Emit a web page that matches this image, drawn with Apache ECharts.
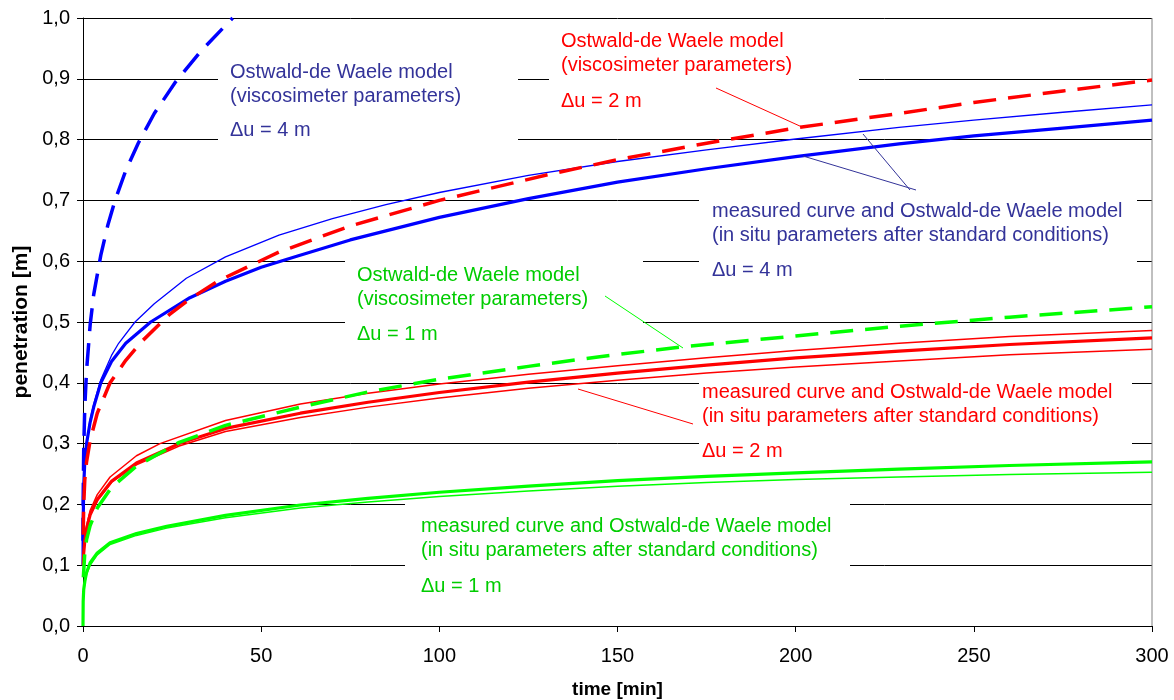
<!DOCTYPE html>
<html>
<head>
<meta charset="utf-8">
<script src="https://cdn.jsdelivr.net/npm/echarts@6/dist/echarts.min.js"></script>
<style>
  html, body { margin: 0; padding: 0; background: #fff; }
  #chart { width: 1174px; height: 700px; }
</style>
</head>
<body>
<div id="chart"></div>
<script>
// Penetration [m] over time [min] for three settlement steps (Δu = 1, 2, 4 m)
const yTicks = [0, 0.1, 0.2, 0.3, 0.4, 0.5, 0.6, 0.7, 0.8, 0.9, 1.0];
const xTicks = [0, 50, 100, 150, 200, 250, 300];

// Δu = 4 m
const blueViscosimeter = [[0.01,0.14],[0.05,0.21],[0.2,0.29],[0.5,0.36],[1,0.42],[2,0.495],[3,0.545],[5,0.61],[7,0.66],[9,0.7],[12,0.749],[15.5,0.794],[20,0.843],[26,0.895],[33,0.945],[42,1.0]];
const blueMeasured = [[0.01,0.1],[0.05,0.17],[0.2,0.23],[0.5,0.27],[1,0.3],[2,0.335],[3,0.36],[5,0.4],[8,0.435],[12,0.465],[19,0.5],[30,0.54],[40,0.567],[50,0.59],[60,0.608],[75,0.635],[100,0.672],[125,0.703],[150,0.73],[175,0.752],[200,0.772],[229,0.793],[250,0.806],[275,0.819],[300,0.832]];
const blueInSitu = [[0.01,0.1],[0.05,0.17],[0.2,0.23],[0.5,0.27],[1,0.3],[2,0.34],[3,0.365],[5,0.405],[8,0.445],[10,0.465],[14.6,0.5],[20,0.53],[29,0.572],[40,0.607],[55,0.643],[70,0.67],[85,0.693],[100,0.713],[125,0.741],[150,0.764],[175,0.783],[200,0.801],[229,0.82],[250,0.832],[275,0.845],[300,0.857]];

// Δu = 2 m
const redViscosimeter = [[0.05,0.15],[0.2,0.2],[0.5,0.24],[1,0.27],[2,0.305],[4,0.35],[7.6,0.4],[12,0.437],[16.5,0.468],[24.4,0.513],[30,0.538],[38.4,0.569],[55,0.615],[75,0.658],[100,0.7],[131,0.743],[150,0.767],[175,0.794],[201,0.82],[229,0.843],[250,0.861],[275,0.88],[300,0.898]];
const redMeasured = [[0.05,0.1],[0.2,0.12],[0.5,0.14],[1,0.16],[2,0.183],[4,0.208],[8,0.238],[15,0.268],[27,0.3],[40,0.325],[61,0.35],[80,0.368],[100,0.384],[125,0.401],[150,0.416],[175,0.429],[200,0.441],[229,0.452],[260,0.463],[300,0.474]];
const redInSituUpper = [[0.05,0.1],[0.2,0.125],[0.5,0.145],[1,0.165],[2,0.19],[4,0.216],[7.6,0.245],[15,0.28],[21.6,0.3],[40,0.338],[61,0.365],[80,0.383],[100,0.398],[125,0.414],[150,0.428],[175,0.441],[200,0.453],[229,0.465],[260,0.476],[300,0.486]];
const redInSituLower = [[0.05,0.1],[0.5,0.14],[1,0.16],[2,0.182],[4,0.206],[8,0.236],[15,0.265],[27,0.296],[40,0.32],[61,0.343],[80,0.36],[100,0.375],[125,0.391],[150,0.404],[175,0.416],[200,0.426],[229,0.436],[260,0.446],[300,0.455]];

// Δu = 1 m
const greenViscosimeter = [[0.1,0.08],[0.5,0.12],[1,0.142],[2,0.165],[4,0.194],[8,0.228],[15,0.263],[27,0.302],[40,0.33],[61,0.36],[80,0.385],[100,0.406],[125,0.427],[145,0.443],[168,0.459],[200,0.477],[229,0.493],[260,0.508],[300,0.525]];
const greenMeasured = [[0,0],[0.05,0.04],[0.2,0.06],[0.56,0.075],[1,0.088],[2,0.104],[4,0.12],[7.6,0.137],[15,0.152],[23.5,0.164],[40,0.182],[61,0.199],[80,0.21],[100,0.22],[125,0.23],[150,0.239],[175,0.246],[200,0.252],[229,0.258],[260,0.264],[300,0.27]];
const greenInSitu = [[0,0],[0.05,0.04],[0.2,0.058],[0.56,0.072],[1,0.085],[2,0.1],[4,0.117],[7.6,0.134],[15,0.149],[23.5,0.161],[40,0.178],[61,0.194],[80,0.204],[100,0.213],[125,0.222],[150,0.23],[175,0.236],[200,0.241],[229,0.245],[260,0.249],[300,0.253]];

const BLUE = '#0000ff', RED = '#ff0000', GREEN = '#00ff00';
const BLUE_TXT = '#333399', RED_TXT = '#ff0000', GREEN_TXT = '#00cc00';
const FONT = '20px "Liberation Sans", Arial, sans-serif';

function curve(name, data, color, width, dashed) {
  return {
    name, type: 'line', data, showSymbol: false, smooth: false,
    lineStyle: { color, width, type: dashed ? [23, 12] : 'solid', cap: 'butt', join: 'round' },
    emphasis: { disabled: true }, z: 2
  };
}

// white label panels that interrupt the grid lines
function panel(x, y, w, h) {
  return { type: 'rect', shape: { x, y, width: w, height: h }, style: { fill: '#fff' }, z: 1, silent: true };
}
function label(x, y, lines, color) {
  return lines.map(([txt, dy]) => ({
    type: 'text', x, y: y + dy, z: 3, silent: true,
    style: { text: txt, fill: color, font: FONT, textVerticalAlign: 'middle' }
  }));
}
function leader(x1, y1, x2, y2, color) {
  return { type: 'line', shape: { x1, y1, x2, y2 }, style: { stroke: color, lineWidth: 1 }, z: 4, silent: true };
}

const model = 'Ostwald-de Waele model';
const visc = '(viscosimeter parameters)';
const meas = 'measured curve and Ostwald-de Waele model';
const insitu = '(in situ parameters after standard conditions)';

const chart = echarts.init(document.getElementById('chart'), null, { renderer: 'canvas' });
chart.setOption({
  animation: false,
  backgroundColor: '#fff',
  grid: { left: 83, right: 22, top: 18, bottom: 74, show: false, containLabel: false, outerBoundsMode: 'none' },
  xAxis: {
    type: 'value', min: 0, max: 300, interval: 50,
    name: 'time [min]', nameLocation: 'middle', nameGap: 54,
    nameTextStyle: { fontFamily: 'Liberation Sans', fontSize: 19, fontWeight: 'bold', color: '#000' },
    axisLine: { lineStyle: { color: '#000', width: 1 } },
    axisTick: { show: true, length: 6, lineStyle: { color: '#000' } },
    axisLabel: { fontFamily: 'Liberation Sans', fontSize: 20, color: '#000', margin: 20,
      formatter: v => xTicks.includes(v) ? String(v) : '' },
    splitLine: { show: false }
  },
  yAxis: {
    type: 'value', min: 0, max: 1, interval: 0.1,
    name: 'penetration [m]', nameLocation: 'middle', nameGap: 50, nameRotate: 90,
    nameTextStyle: { fontFamily: 'Liberation Sans', fontSize: 21, fontWeight: 'bold', color: '#000' },
    axisLine: { show: true, lineStyle: { color: '#000', width: 1 } },
    axisTick: { show: true, length: 6, lineStyle: { color: '#000' } },
    axisLabel: { fontFamily: 'Liberation Sans', fontSize: 20, color: '#000', margin: 13,
      formatter: v => yTicks.some(t => Math.abs(t - v) < 1e-9) ? v.toFixed(1).replace('.', ',') : '' },
    splitLine: { show: true, lineStyle: { color: '#000', width: 1 } }
  },
  series: [
    curve('blueViscosimeter', blueViscosimeter, BLUE, 3.5, true),
    curve('blueInSitu', blueInSitu, BLUE, 1.3, false),
    curve('blueMeasured', blueMeasured, BLUE, 3.2, false),
    curve('redViscosimeter', redViscosimeter, RED, 3.5, true),
    curve('redInSituUpper', redInSituUpper, RED, 1.5, false),
    curve('redInSituLower', redInSituLower, RED, 1.5, false),
    curve('redMeasured', redMeasured, RED, 3.2, false),
    curve('greenViscosimeter', greenViscosimeter, GREEN, 3.5, true),
    curve('greenInSitu', greenInSitu, GREEN, 1.5, false),
    curve('greenMeasured', greenMeasured, GREEN, 3.2, false)
  ],
  graphic: [
    // right frame edge
    { type: 'line', shape: { x1: 1152, y1: 18, x2: 1152, y2: 626 }, style: { stroke: '#808080', lineWidth: 1 }, z: 1 },
    panel(218, 48, 300, 100),
    panel(549, 22, 310, 92),
    panel(699, 186, 438, 100),
    panel(345, 252, 298, 98),
    panel(699, 370, 433, 98),
    panel(405, 490, 445, 112),
    ...label(230, 72, [[model, 0], [visc, 24], ['Δu = 4 m', 58]], BLUE_TXT),
    ...label(561, 41, [[model, 0], [visc, 24], ['Δu = 2 m', 60]], RED_TXT),
    ...label(712, 211, [[meas, 0], [insitu, 24], ['Δu = 4 m', 59]], BLUE_TXT),
    ...label(357, 275, [[model, 0], [visc, 24], ['Δu = 1 m', 59]], GREEN_TXT),
    ...label(702, 392, [[meas, 0], [insitu, 24], ['Δu = 2 m', 59]], RED_TXT),
    ...label(421, 526, [[meas, 0], [insitu, 24], ['Δu = 1 m', 60]], GREEN_TXT),
    leader(716, 88, 802, 127, RED),
    leader(863, 134, 910, 190, BLUE_TXT),
    leader(803, 156, 916, 190, BLUE_TXT),
    leader(605, 296, 683, 348, GREEN),
    leader(578, 389, 693, 424, RED)
  ]
});
</script>
</body>
</html>
